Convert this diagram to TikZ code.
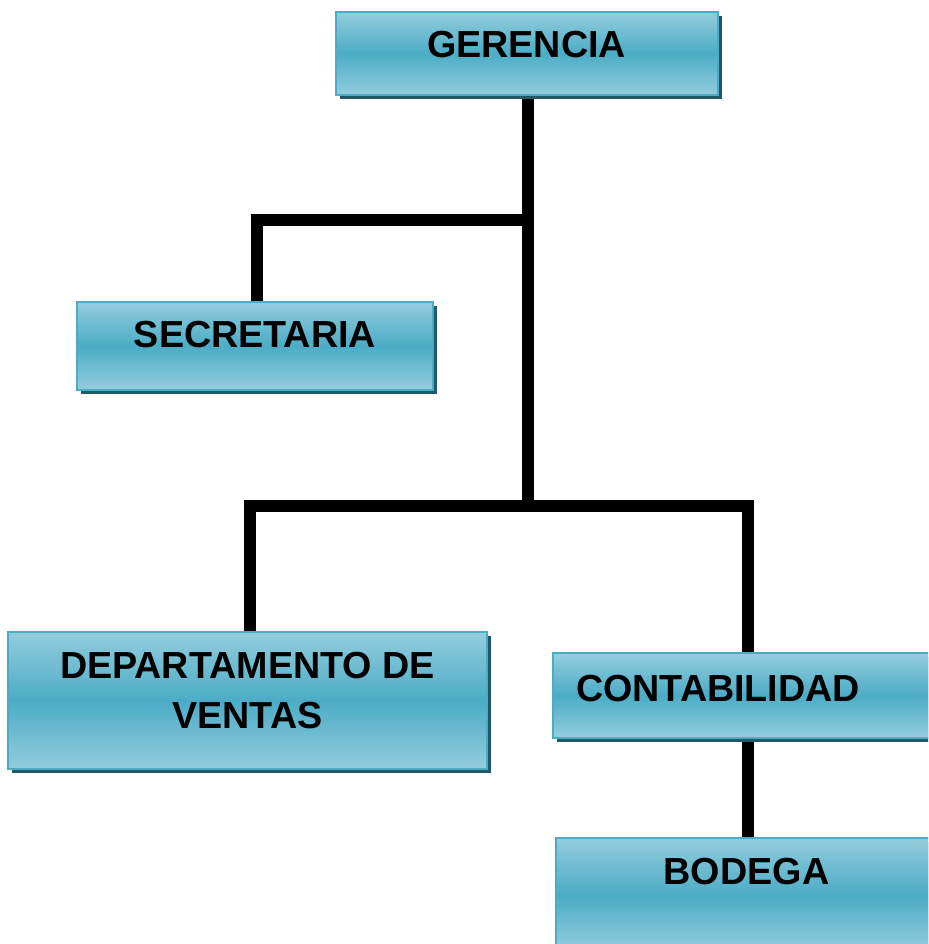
\documentclass[tikz,border=0pt]{standalone}
\usepackage{fontspec}
\setmainfont{Liberation Sans}
\usetikzlibrary{shadows,backgrounds}
\definecolor{clarito}{RGB}{148,205,221}
\definecolor{azul}{RGB}{75,172,198}
\definecolor{sombra}{RGB}{35,88,102}
\tikzstyle{caja} = [rectangle, draw=azul, line width=2pt,
    top color=clarito, bottom color=clarito, middle color=azul,
    inner sep=0pt, font=\fontsize{37.7}{50}\selectfont\bfseries,
    drop shadow={shadow xshift=4pt, shadow yshift=-4pt, fill=sombra, opacity=1}]
\tikzstyle{linea} = [line width=12pt, black]

\begin{document}
\begin{tikzpicture}[x=1pt,y=-1pt]
  \useasboundingbox (0,0) rectangle (928,944);
  \clip (0,0) rectangle (928,944);

  \node[caja, minimum width=382pt, minimum height=83pt, text depth=18pt]
      (ger) at (526.5,53.5) {GERENCIA};
  \node[caja, minimum width=356pt, minimum height=88pt, text depth=23pt]
      (sec) at (255,346) {SECRETARIA};
  \node[caja, minimum width=479pt, minimum height=137pt, align=center]
      (dep) at (247.5,700.5) {DEPARTAMENTO DE\\VENTAS\rule[-21pt]{0pt}{0pt}};
  \node[caja, minimum width=400pt, minimum height=85pt, text depth=14pt,
      text width=354pt, inner xsep=23pt, align=left]
      (cont) at (753,695.5) {CONTABILIDAD};
  \node[caja, minimum width=381pt, minimum height=114pt, text depth=47pt]
      (bod) at (746.5,895) {BODEGA};

  \coordinate (jsec) at (528,220);
  \coordinate (jmain) at (528,506);
  \coordinate (jcont) at (748,506);

  \begin{scope}[on background layer]
    \draw[linea] (jmain |- ger.south) -- (jmain);
    \draw[linea] (jsec) -| ([xshift=2pt]sec.north);
    \draw[linea] ([xshift=2.5pt]dep.north) |- (jcont) -- (jcont |- cont.north);
    \draw[linea] (jcont |- cont.south) -- (jcont |- bod.north);
  \end{scope}
\end{tikzpicture}
\end{document}
